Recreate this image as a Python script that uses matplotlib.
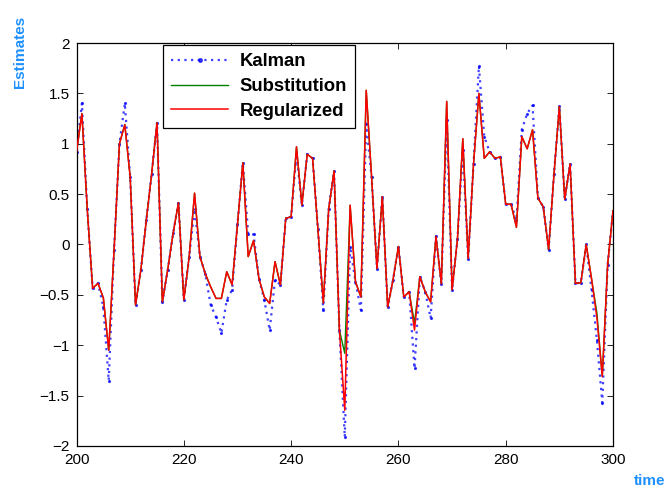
import numpy as np
import matplotlib
matplotlib.use('Agg')
from matplotlib import pyplot as plt

plt.rcParams['font.family'] = ['Liberation Sans', 'DejaVu Sans']

# time axis
t = np.arange(200, 301)

# Regularized estimate
regularized = [
    0.92, 1.30, 0.35, -0.435, -0.385, -0.53, -1.05, -0.05, 1.00, 1.19,
    0.67, -0.60, -0.25, 0.24, 0.70, 1.21, -0.57, -0.25, 0.11, 0.415,
    -0.55, -0.12, 0.51, -0.12, -0.29, -0.42, -0.535, -0.535, -0.27, -0.40,
    0.20, 0.81, -0.12, 0.04, -0.34, -0.52, -0.585, -0.17, -0.40, 0.26,
    0.275, 0.97, 0.39, 0.895, 0.855, 0.15, -0.58, 0.35, 0.73, -0.85,
    -1.645, 0.39, -0.37, -0.52, 1.53, 0.67, -0.24, 0.475, -0.62, -0.35,
    -0.02, -0.52, -0.47, -0.85, -0.32, -0.47, -0.57, 0.08, -0.39, 1.42,
    -0.45, 0.05, 1.05, -0.14, 0.80, 1.50, 0.855, 0.92, 0.855, 0.87,
    0.40, 0.40, 0.17, 1.07, 0.95, 1.14, 0.46, 0.375, -0.05, 0.70,
    1.37, 0.45, 0.80, -0.385, -0.38, 0.00, -0.34, -0.73, -1.31, -0.20,
    0.335,
]

# Substitution estimate: same as regularized except a few points
substitution = list(regularized)
for k, v in {250: -1.08, 263: -0.78, 297: -0.68}.items():
    substitution[k - 200] = v

# Kalman estimate: deviates mostly at the extremes
kalman = list(regularized)
for k, v in {201: 1.40, 205: -0.62, 206: -1.35, 209: 1.40, 222: 0.35,
             225: -0.60, 226: -0.72, 227: -0.88, 228: -0.55, 229: -0.45,
             232: 0.10, 233: 0.10, 235: -0.55, 236: -0.85, 237: -0.35,
             241: 0.90, 246: -0.65, 250: -1.91, 251: -0.02, 253: -0.65,
             254: 1.20, 263: -1.23, 266: -0.73, 269: 1.24, 272: 0.94,
             275: 1.77, 276: 1.07, 282: 0.24, 283: 1.14, 284: 1.30,
             285: 1.38, 296: -0.45, 297: -0.95, 298: -1.57}.items():
    kalman[k - 200] = v

blue_lbl = '#1E90FF'

fig = plt.figure(figsize=(6.69, 4.92), dpi=100)
ax = fig.add_axes([0.1144, 0.0935, 0.8019, 0.8191])

ax.plot(t, kalman, color='blue', linestyle=(0, (1, 2)), linewidth=1.6,
        marker='.', markersize=2.5, label='Kalman', zorder=1, alpha=0.75)
ax.plot(t, substitution, color='#008000', linewidth=1.0, label='Substitution', zorder=2)
ax.plot(t, regularized, color='red', linewidth=1.1, label='Regularized', zorder=3)

ax.set_xlim(200, 300)
ax.set_ylim(-2, 2)
ax.set_xticks(np.arange(200, 301, 20))
ax.set_yticks(np.arange(-2, 2.01, 0.5))
ax.set_yticklabels(['\u22122', '\u22121.5', '\u22121', '\u22120.5', '0', '0.5', '1', '1.5', '2'])
ax.tick_params(direction='in', top=True, right=True, length=4, width=0.6,
               labelsize=11, pad=5)
for s in ax.spines.values():
    s.set_linewidth(0.9)

leg = ax.legend(loc='upper left', bbox_to_anchor=(0.161, 0.995),
                prop={'weight': 'bold', 'size': 13.3}, fancybox=False,
                edgecolor='black', framealpha=1, borderaxespad=0,
                handlelength=3.1, handletextpad=0.6, labelspacing=0.42,
                borderpad=0.45, numpoints=1, markerscale=2)
leg.get_frame().set_linewidth(0.9)

fig.text(0.03, 1 - 52 / 492, 'Estimates', rotation=90, ha='center', va='center',
         color=blue_lbl, fontweight='bold', fontsize=11)
fig.text(650 / 669, 1 - 481 / 492, 'time', ha='center', va='center',
         color=blue_lbl, fontweight='bold', fontsize=11)

fig.savefig('out.png', dpi=100)
